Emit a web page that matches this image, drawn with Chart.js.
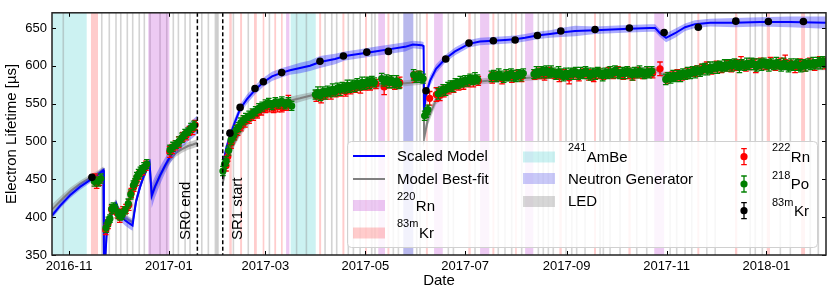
<!DOCTYPE html>
<html>
<head>
<meta charset="utf-8">
<script src="https://cdn.jsdelivr.net/npm/chart.js@4.4.1/dist/chart.umd.min.js"></script>
<style>
  html, body { margin: 0; padding: 0; background: #fff; }
</style>
</head>
<body>
<canvas id="lifetime" width="830" height="294"></canvas>
<script>
// x values are days since 2016-11-01

const tickDays = [0, 61, 120, 181, 242, 304, 365, 426]
const tickLabels = ['2016-11', '2017-01', '2017-03', '2017-05', '2017-07', '2017-09', '2017-11', '2018-01']
const yTicks = [350, 400, 450, 500, 550, 600, 650]

const sr0End = 78.4
const sr1Start = 93.9

// calibration periods [start, end]
const ambeRuns = [[-12, 10.8], [135.4, 150.7]]
const rn220Runs = [[48.4, 61.3], [132.6, 134.6], [188.9, 193.0], [223.0, 228.3], [251.1, 256.7], [278.6, 283.6], [357.5, 363.5]]
const kr83mRuns = [[13.4, 17.7], [97.9, 99.4], [104.5, 105.7], [113.0, 114.7], [118.3, 119.3], [125.4, 126.5], [129.5, 130.5],
  [152.8, 154.0], [167.0, 168.2], [180.8, 182.0], [194.5, 195.7], [218.0, 219.2], [243.9, 245.4], [258.6, 259.8],
  [272.5, 273.5], [299.5, 301.0], [320.7, 321.9], [341.7, 343.1], [383.8, 385.0], [406.8, 408.2], [426.2, 428.2], [447.2, 449.6]]
const neutronRuns = [[204.2, 210.3]]
const ledDays = [-3.5, 20.0, 24.6, 28.7, 31.6, 35.6, 38.9, 42.9, 46.0, 49.5, 55.6, 59.7, 63.7, 66.8, 70.9, 73.9,
  81.1, 85.1, 89.4, 90.2, 91.0, 100.4, 109.5, 122.4, 139.0, 145.0, 156.4, 160.5, 163.5, 170.6, 173.7, 177.8, 184.9, 186.9,
  198.1, 201.2, 212.4, 214.4, 231.7, 234.8, 248.0, 262.2, 266.3, 270.4, 276.5, 286.7, 289.7, 292.8, 295.8,
  303.6, 307.1, 310.1, 315.2, 324.4, 326.4, 330.5, 336.6, 346.8, 352.9, 367.2, 371.2, 376.3, 380.4,
  389.6, 394.7, 416.1, 419.2, 423.5, 434.5, 440.6, 452.8, 457.7]

// scaled model (blue) and its half width
const scaledDays = [-10.4, -5.5, 0.6, 6.7, 12.8, 17.1, 21.0, 21.3, 22.0, 22.9, 23.8, 25.0, 26.3, 27.5, 28.7, 29.9, 31.8, 34.2,
  37.3, 38.8, 39.5, 40.9, 43.4, 45.8, 48.3, 49.2, 50.5, 52.5, 55.6, 58.6, 61.7, 65.4, 69.0, 72.7, 75.7, 78.2, 86.0,
  93.9, 95.9, 98.4, 101.4, 104.5, 108.7, 113.6, 118.5, 124.0, 130.1, 135.0, 141.1, 147.2, 153.3, 162.5, 168.6, 177.8,
  186.9, 196.1, 205.3, 210.1, 215.6, 216.6, 216.9, 218.1, 220.5, 224.2, 229.7, 235.8, 244.3, 251.0, 258.9, 266.3,
  272.5, 278.6, 285.9, 293.8, 300.5, 309.1, 321.3, 331.7, 342.1, 354.9, 358.0, 361.0, 364.7, 370.2, 376.3, 382.4,
  391.6, 406.8, 422.1, 440.4, 462.4]
const scaledModel = [402, 415, 429, 440, 449, 455, 462, 340, 340, 375, 388, 396, 406, 414, 418, 410, 401, 396,
  391, 389, 400, 420, 440, 455, 468, 472, 428, 440, 455, 468, 480, 492, 502, 511, 517, 522, null,
  468, 490, 508, 526, 543, 556, 568, 578, 586, 591, 594, 597, 600, 605, 609, 613, 616,
  619, 622, 625, 628, 627, 626, 540, 562, 580, 596, 609, 619, 629, 632, 633, 634,
  635, 637, 640, 642, 644, 646, 647, 648, 649, 650, 650, 643, 637, 643, 651, 655,
  657, 657, 658, 658, 657]
const scaledSpread = [4, 4, 4, 4, 4, 4, 4, 4, 4, 6, 5, 5, 5, 5, 5, 6, 7, 7,
  7, 7, 6, 5, 5, 5, 5, 6, 16, 14, 12, 10, 9, 9, 10, 11, 12, 12, null,
  6, 6, 6, 6, 6, 6, 6, 6, 6, 6, 6, 7, 7, 8, 7, 6, 6,
  6, 6, 6, 5, 5, 5, 8, 8, 7, 6, 5, 5, 5, 5, 5, 5,
  5, 5, 5, 5, 6, 7, 5, 5, 5, 5, 5, 5, 6, 6, 5, 5,
  5, 6, 6, 7, 8]

// best-fit model (gray) and its half width
const bestDays = [-10.4, -5.5, 0.6, 6.7, 12.8, 17.1, 20.2, 21.0, 21.3, 22.0, 22.9, 23.8, 25.0, 26.3, 27.5, 28.7, 29.9, 31.8,
  34.2, 37.3, 38.8, 39.5, 40.9, 43.4, 45.8, 48.3, 49.2, 50.5, 52.5, 55.6, 58.6, 61.7, 65.4, 69.0, 72.7, 75.7, 78.2, 86.0,
  93.9, 95.9, 98.4, 101.4, 104.5, 108.7, 113.6, 118.5, 124.0, 130.1, 135.0, 141.1, 150.3, 162.5, 177.8, 196.1, 210.1,
  215.6, 216.6, 216.9, 219.3, 224.2, 232.8, 245.0, 263.3, 285.9, 299.9, 324.4, 356.7, 359.8, 362.9, 370.2, 385.5,
  403.8, 434.3, 462.4]
const bestFit = [410, 421, 434, 444, 452, 457, 462, 463, 340, 340, 378, 390, 398, 408, 415, 419, 412, 404,
  399, 395, 393, 403, 421, 441, 456, 468, 471, 430, 441, 455, 467, 477, 485, 490, 494, 496, 498, null,
  445, 468, 486, 500, 512, 524, 534, 541, 547, 551, 554, 557, 562, 567, 571, 575, 578,
  579, 579, 505, 530, 555, 570, 578, 582, 585, 588, 590, 595, 594, 587, 590, 596,
  598, 598, 598]
const bestSpread = [7, 6, 5, 4, 4, 4, 4, 4, 4, 4, 6, 5, 5, 5, 5, 5, 5, 5,
  5, 5, 5, 5, 5, 5, 5, 5, 5, 9, 8, 6, 5, 5, 5, 5, 5, 5, 5, null,
  7, 6, 6, 5, 5, 5, 5, 5, 5, 5, 5, 5, 4, 4, 4, 4, 4,
  4, 4, 10, 8, 6, 5, 4, 4, 4, 4, 4, 4, 4, 5, 4, 4,
  4, 4, 4]

// [day, lifetime, error]
const rn222Points = [
  [15.9, 451, 6], [16.9, 445, 7], [18.5, 448, 6],
  [22.4, 383, 6], [23.8, 391, 6], [26.0, 410, 6], [29.5, 405, 6], [31.0, 400, 7], [33.0, 408, 6], [34.8, 411, 6],
  [36.5, 416, 7], [38.0, 432, 6], [39.5, 440, 6], [41.0, 448, 6], [43.0, 456, 6], [45.0, 462, 6], [47.0, 468, 6],
  [61.5, 486, 7], [63.0, 490, 6], [65.0, 495, 6], [67.0, 499, 7], [69.5, 506, 6], [71.5, 508, 6], [73.5, 514, 6],
  [75.5, 516, 7], [77.0, 522, 6],
  [95.9, 468, 7], [97.0, 480, 6], [99.0, 498, 7], [101.0, 508, 6], [103.0, 515, 7], [105.0, 520, 6], [107.5, 526, 7],
  [110.0, 530, 6], [112.5, 535, 7], [115.0, 537, 6], [117.5, 542, 7], [120.0, 544, 6], [122.5, 546, 7], [125.0, 544, 6],
  [127.5, 546, 7], [130.0, 545, 6], [132.5, 548, 7], [134.0, 551, 10],
  [151.0, 560, 7], [154.0, 558, 7], [157.0, 562, 6], [160.0, 563, 7], [163.0, 565, 6], [166.0, 567, 7], [169.0, 566, 6],
  [172.0, 570, 7], [175.0, 571, 6], [178.0, 571, 7], [181.0, 574, 6], [184.0, 575, 7], [187.5, 576, 6], [192.5, 572, 10],
  [196.0, 578, 7], [199.0, 575, 6], [202.0, 578, 7], [211.0, 585, 7], [214.0, 587, 6],
  [220.3, 557, 9], [224.4, 562, 9], [226.5, 561, 7], [229.0, 566, 7], [232.0, 569, 6], [235.0, 572, 7], [238.0, 574, 6],
  [241.0, 576, 7], [244.0, 578, 6], [247.0, 579, 7], [250.0, 580, 6], [258.5, 584, 7], [261.5, 586, 6], [264.5, 583, 7],
  [267.5, 587, 6], [270.5, 585, 7], [273.5, 588, 6], [276.5, 586, 7], [284.5, 588, 6], [287.5, 590, 7], [290.5, 587, 6],
  [293.5, 591, 7], [296.5, 589, 6], [299.5, 586, 7], [302.5, 589, 6], [305.5, 584, 8], [308.5, 590, 6], [311.5, 587, 7],
  [314.5, 590, 6], [317.5, 588, 7], [320.5, 585, 6], [323.5, 590, 7], [326.5, 588, 6], [329.5, 591, 7], [332.5, 589, 6],
  [335.5, 592, 7], [338.5, 588, 6], [341.5, 590, 7], [344.5, 587, 6], [347.5, 591, 7], [350.5, 589, 6], [353.5, 592, 7],
  [356.5, 590, 6], [361.0, 596, 9], [365.5, 584, 7], [368.5, 586, 6], [371.5, 588, 7], [374.5, 587, 6], [377.5, 590, 7],
  [380.5, 592, 6], [383.5, 593, 7], [386.5, 596, 6], [389.5, 598, 7], [392.5, 595, 6], [395.5, 599, 7], [398.5, 597, 6],
  [401.5, 600, 7], [404.5, 598, 6], [407.5, 601, 7], [410.5, 604, 8], [413.5, 599, 6], [416.5, 602, 7], [419.5, 600, 9],
  [422.5, 603, 7], [425.5, 601, 6], [428.5, 604, 7], [431.5, 600, 6], [434.5, 603, 7], [437.5, 605, 9], [440.5, 601, 6],
  [443.5, 598, 7], [446.5, 603, 6], [449.5, 600, 7], [452.5, 604, 6], [455.5, 601, 7], [458.5, 606, 6], [461.5, 603, 7]
]

const po218Points = [
  [15.5, 447, 6], [17.9, 447, 6], [19.5, 451, 6],
  [22.6, 386, 6], [24.0, 394, 6], [25.0, 398, 5], [26.1, 411, 6], [27.1, 413, 6], [28.1, 412, 5], [30.1, 404, 6],
  [31.2, 402, 6], [32.4, 403, 6], [34.2, 409, 5], [36.2, 418, 6], [37.7, 430, 6], [39.3, 442, 6], [40.3, 446, 5],
  [41.4, 453, 6], [42.5, 457, 6], [43.6, 460, 6], [44.6, 463, 5], [45.8, 466, 6], [47.5, 470, 6],
  [61.7, 489, 6], [63.5, 493, 6], [65.4, 496, 5], [67.2, 500, 6], [69.0, 505, 6], [70.9, 510, 6], [72.7, 513, 5],
  [74.5, 518, 6], [76.4, 521, 6],
  [94.0, 461, 6], [95.0, 470, 6], [96.0, 474, 6], [97.5, 488, 6], [99.0, 502, 6], [100.5, 508, 6], [102.0, 515, 6],
  [103.5, 519, 6], [105.0, 525, 6], [106.5, 528, 6], [108.0, 531, 6], [110.0, 534, 6], [112.0, 537, 6], [114.0, 540, 6],
  [116.0, 544, 6], [118.0, 546, 6], [120.0, 549, 6], [122.0, 551, 6], [124.0, 548, 6], [126.0, 552, 6], [128.0, 550, 6],
  [130.0, 553, 6], [132.0, 549, 6], [134.0, 552, 6], [136.0, 547, 6],
  [150.5, 562, 6], [152.0, 565, 7], [153.5, 560, 6], [155.0, 566, 6], [156.5, 563, 7], [158.0, 567, 6], [159.5, 565, 6],
  [161.0, 569, 7], [162.5, 566, 6], [164.0, 571, 6], [165.5, 568, 7], [167.0, 572, 6], [168.5, 570, 6], [170.0, 574, 7],
  [171.5, 571, 6], [173.0, 575, 6], [174.5, 573, 7], [176.0, 577, 6], [177.5, 574, 6], [179.0, 578, 7], [180.5, 575, 6],
  [182.0, 579, 6], [183.5, 577, 7], [185.0, 580, 6], [186.5, 578, 6],
  [191.0, 583, 7], [192.5, 579, 6], [194.0, 582, 6], [195.5, 578, 7], [197.0, 581, 6], [198.5, 577, 6], [200.0, 580, 7],
  [201.5, 576, 6],
  [210.5, 588, 7], [212.0, 584, 6], [213.5, 587, 6], [215.0, 585, 7], [216.3, 583, 6],
  [217.2, 534, 6], [218.2, 538, 6], [219.2, 542, 6],
  [225.5, 563, 7], [227.0, 566, 6], [228.5, 569, 6], [230.0, 568, 7], [231.5, 572, 6], [233.0, 574, 6], [234.5, 573, 7],
  [236.0, 577, 6], [237.5, 576, 6], [239.0, 579, 7], [240.5, 578, 6], [242.0, 581, 6], [243.5, 580, 7], [245.0, 583, 6],
  [246.5, 581, 6], [248.0, 584, 7], [249.5, 582, 6],
  [258.0, 586, 7], [259.5, 588, 6], [261.0, 585, 6], [262.5, 589, 7], [264.0, 587, 6], [265.5, 584, 6], [267.0, 588, 7],
  [268.5, 586, 6], [270.0, 590, 6], [271.5, 587, 7], [273.0, 585, 6], [274.5, 589, 6], [276.0, 587, 7], [277.5, 590, 6],
  [284.0, 589, 6], [285.5, 592, 7], [287.0, 590, 6], [288.5, 593, 6], [290.0, 591, 7], [291.5, 594, 6], [293.0, 590, 6],
  [294.5, 593, 7], [296.0, 591, 6], [297.5, 588, 6], [299.0, 592, 7], [300.5, 590, 6], [302.0, 586, 6], [303.5, 590, 7],
  [305.0, 588, 6], [306.5, 591, 6], [308.0, 589, 7], [309.5, 592, 6], [311.0, 588, 6], [312.5, 591, 7], [314.0, 589, 6],
  [315.5, 593, 6], [317.0, 590, 7], [318.5, 587, 6], [320.0, 591, 6], [321.5, 589, 7], [323.0, 592, 6], [324.5, 590, 6],
  [326.0, 587, 7], [327.5, 591, 6], [329.0, 589, 6], [330.5, 592, 7], [332.0, 590, 6], [333.5, 594, 6], [335.0, 591, 7],
  [336.5, 589, 6], [338.0, 592, 6], [339.5, 590, 7], [341.0, 593, 6], [342.5, 591, 6], [344.0, 588, 7], [345.5, 592, 6],
  [347.0, 590, 6], [348.5, 593, 7], [350.0, 591, 6], [351.5, 589, 6], [353.0, 592, 7], [354.5, 590, 6], [356.0, 593, 6],
  [364.5, 582, 7], [366.0, 585, 6], [367.5, 583, 6], [369.0, 587, 7], [370.5, 585, 6], [372.0, 588, 6], [373.5, 586, 7],
  [375.0, 590, 6], [376.5, 588, 6], [378.0, 591, 7], [379.5, 589, 6], [381.0, 593, 6], [382.5, 591, 7], [384.0, 594, 6],
  [385.5, 592, 6], [387.0, 595, 7], [388.5, 597, 6], [390.0, 594, 6], [391.5, 598, 7], [393.0, 596, 6], [394.5, 599, 6],
  [396.0, 597, 7], [397.5, 600, 6], [399.0, 598, 6], [400.5, 601, 7], [402.0, 599, 6], [403.5, 602, 6], [405.0, 600, 7],
  [406.5, 603, 6], [408.0, 601, 6], [409.5, 598, 7], [411.0, 602, 6], [412.5, 600, 6], [414.0, 603, 7], [415.5, 601, 6],
  [417.0, 604, 6], [418.5, 602, 7], [420.0, 599, 6], [421.5, 603, 6], [423.0, 601, 7], [424.5, 604, 6], [426.0, 602, 6],
  [427.5, 600, 7], [429.0, 603, 6], [430.5, 601, 6], [432.0, 604, 7], [433.5, 602, 6], [435.0, 599, 6], [436.5, 603, 7],
  [438.0, 601, 6], [439.5, 598, 6], [441.0, 602, 7], [442.5, 600, 6], [444.0, 603, 6], [445.5, 601, 7], [447.0, 598, 6],
  [448.5, 602, 6], [450.0, 600, 7], [451.5, 603, 6], [453.0, 601, 6], [454.5, 604, 7], [456.0, 602, 6], [457.5, 605, 6],
  [459.0, 603, 7], [460.5, 606, 6], [462.0, 604, 6]
]

const kr83mPoints = [
  [14.0, 452.6, 2], [98.3, 511, 2], [104.5, 545, 2], [113.6, 570, 2], [118.7, 579, 2], [129.9, 591, 2],
  [153.3, 606, 2], [167.6, 613, 2], [181.9, 618, 2], [195.1, 619, 2], [218.1, 567, 2], [230.1, 609, 2],
  [244.3, 630, 2], [259.2, 633, 2], [272.5, 634, 2], [286.1, 640, 2], [300.4, 646, 2], [321.3, 648, 2],
  [342.3, 650, 2], [363.5, 644, 2], [384.4, 651, 2], [407.3, 659, 2], [427.2, 658.5, 2], [448.6, 658.5, 2]
]

const FONT = '"Liberation Sans", Arial, Helvetica, sans-serif'

function toXY(days, values) {
    return days.map((d, i) => ({ x: d, y: values[i] }))
}
function bandEdge(days, values, spread, sign) {
    return days.map((d, i) => ({ x: d, y: values[i] === null ? null : values[i] + sign * spread[i] }))
}
function pointData(points) {
    return points.map(p => ({ x: p[0], y: p[1] }))
}

function clipToArea(ctx, area) {
    ctx.beginPath()
    ctx.rect(area.left, area.top, area.right - area.left, area.bottom - area.top)
    ctx.clip()
}

const COLORS = {
    ambe: 'rgba(0,190,190,0.2)',
    rn220: 'rgba(190,60,210,0.27)',
    kr83m: 'rgba(255,0,0,0.2)',
    neutron: 'rgba(40,40,200,0.33)',
    led: 'rgba(140,140,140,0.38)'
}

// shaded calibration periods behind the data
const calibrationBands = {
    id: 'calibrationBands',
    beforeDatasetsDraw(chart) {
        const { ctx, chartArea: area, scales: { x } } = chart
        ctx.save()
        clipToArea(ctx, area)
        const fillRuns = (runs, color) => {
            ctx.fillStyle = color
            runs.forEach(run => {
                let x0 = x.getPixelForValue(run[0])
                let x1 = x.getPixelForValue(run[1])
                if (x1 - x0 < 1.6) {
                    const c = (x0 + x1) / 2
                    x0 = c - 0.8
                    x1 = c + 0.8
                }
                ctx.fillRect(x0, area.top, x1 - x0, area.bottom - area.top)
            })
        }
        fillRuns(ambeRuns, COLORS.ambe)
        fillRuns(ledDays.map(d => [d, d]), COLORS.led)
        fillRuns(rn220Runs, COLORS.rn220)
        fillRuns(kr83mRuns, COLORS.kr83m)
        fillRuns(neutronRuns, COLORS.neutron)
        ctx.restore()
    }
}

// error bars, drawn just under each point series
const errorBars = {
    id: 'errorBars',
    beforeDatasetDraw(chart, args) {
        const ds = chart.data.datasets[args.index]
        if (!ds.errorBars) return
        const { ctx, chartArea: area, scales: { x, y } } = chart
        ctx.save()
        clipToArea(ctx, area)
        ctx.strokeStyle = ds.backgroundColor
        ctx.lineWidth = 1.3
        ds.data.forEach((p, i) => {
            const e = ds.errorBars[i]
            const px = x.getPixelForValue(p.x)
            const top = y.getPixelForValue(p.y + e)
            const bot = y.getPixelForValue(p.y - e)
            ctx.beginPath()
            ctx.moveTo(px, top)
            ctx.lineTo(px, bot)
            ctx.moveTo(px - 2.8, top)
            ctx.lineTo(px + 2.8, top)
            ctx.moveTo(px - 2.8, bot)
            ctx.lineTo(px + 2.8, bot)
            ctx.stroke()
        })
        ctx.restore()
    }
}

function drawLabel(ctx, x, y, sup, main) {
    ctx.textBaseline = 'middle'
    ctx.textAlign = 'left'
    let cx = x
    if (sup) {
        ctx.font = '11px ' + FONT
        ctx.fillText(sup, cx, y - 9)
        cx += ctx.measureText(sup).width + 0.5
    }
    ctx.font = '15px ' + FONT
    ctx.fillText(main, cx, y + 0.5)
}

function drawLegendMarker(ctx, x, y, color, err) {
    ctx.strokeStyle = color
    ctx.fillStyle = color
    ctx.lineWidth = 1.3
    ctx.beginPath()
    ctx.moveTo(x, y - err)
    ctx.lineTo(x, y + err)
    ctx.moveTo(x - 2.8, y - err)
    ctx.lineTo(x + 2.8, y - err)
    ctx.moveTo(x - 2.8, y + err)
    ctx.lineTo(x + 2.8, y + err)
    ctx.stroke()
    ctx.beginPath()
    ctx.arc(x, y, 3.6, 0, Math.PI * 2)
    ctx.fill()
}

// run markers, run labels and the legend box
const annotations = {
    id: 'annotations',
    afterDatasetsDraw(chart) {
        const { ctx, chartArea: area, scales: { x } } = chart
        ctx.save()
        ctx.strokeStyle = '#000'
        ctx.lineWidth = 1.5
        ctx.setLineDash([4, 2.5])
        ;[sr0End, sr1Start].forEach(d => {
            const px = x.getPixelForValue(d)
            ctx.beginPath()
            ctx.moveTo(px, area.top)
            ctx.lineTo(px, area.bottom)
            ctx.stroke()
        })
        ctx.setLineDash([])

        ctx.fillStyle = '#000'
        ctx.font = '15px ' + FONT
        ctx.textAlign = 'left'
        ctx.textBaseline = 'middle'
        const runText = (px, text) => {
            ctx.save()
            ctx.translate(px, 240)
            ctx.rotate(-Math.PI / 2)
            ctx.fillText(text, 0, 0)
            ctx.restore()
        }
        runText(x.getPixelForValue(sr0End) - 12, 'SR0 end')
        runText(x.getPixelForValue(sr1Start) + 15.5, 'SR1 start')

        // legend
        ctx.fillStyle = 'rgba(255,255,255,0.82)'
        ctx.strokeStyle = '#d0d0d0'
        ctx.lineWidth = 1
        ctx.beginPath()
        ctx.roundRect(347.5, 141.5, 470, 106, 4)
        ctx.fill()
        ctx.stroke()

        ctx.lineWidth = 2
        ctx.strokeStyle = '#0000ff'
        ctx.beginPath()
        ctx.moveTo(353, 156)
        ctx.lineTo(385, 156)
        ctx.stroke()
        ctx.strokeStyle = '#808080'
        ctx.beginPath()
        ctx.moveTo(353, 179)
        ctx.lineTo(385, 179)
        ctx.stroke()
        ctx.fillStyle = COLORS.rn220
        ctx.fillRect(353, 200, 32, 11)
        ctx.fillStyle = COLORS.kr83m
        ctx.fillRect(353, 227.5, 32, 11)

        ctx.fillStyle = COLORS.ambe
        ctx.fillRect(523, 151.5, 32, 11)
        ctx.fillStyle = 'rgba(60,60,230,0.28)'
        ctx.fillRect(523, 173, 32, 11)
        ctx.fillStyle = 'rgba(140,140,140,0.35)'
        ctx.fillRect(523, 196, 32, 11)

        drawLegendMarker(ctx, 744, 156.7, '#ff0000', 8)
        drawLegendMarker(ctx, 744, 184, '#008000', 8)
        drawLegendMarker(ctx, 744, 210.7, '#000000', 8)

        ctx.fillStyle = '#000'
        drawLabel(ctx, 397, 156.5, null, 'Scaled Model')
        drawLabel(ctx, 397, 179.5, null, 'Model Best-fit')
        drawLabel(ctx, 397, 206, '220', 'Rn')
        drawLabel(ctx, 397, 233, '83m', 'Kr')
        drawLabel(ctx, 568, 157, '241', 'AmBe')
        drawLabel(ctx, 568, 179.5, null, 'Neutron Generator')
        drawLabel(ctx, 568, 201.5, null, 'LED')
        drawLabel(ctx, 772, 157, '222', 'Rn')
        drawLabel(ctx, 772, 184.5, '218', 'Po')
        drawLabel(ctx, 772, 211.5, '83m', 'Kr')
        ctx.restore()
    }
}

// frame with inward ticks on all four sides
const frameTicks = {
    id: 'frameTicks',
    afterDraw(chart) {
        const { ctx, chartArea: area, scales: { x, y } } = chart
        ctx.save()
        ctx.strokeStyle = '#000'
        ctx.lineWidth = 1
        tickDays.forEach(d => {
            const px = Math.round(x.getPixelForValue(d)) + 0.5
            ctx.beginPath()
            ctx.moveTo(px, area.bottom)
            ctx.lineTo(px, area.bottom - 4)
            ctx.moveTo(px, area.top)
            ctx.lineTo(px, area.top + 4)
            ctx.stroke()
        })
        yTicks.forEach(v => {
            const py = Math.round(y.getPixelForValue(v)) + 0.5
            ctx.beginPath()
            ctx.moveTo(area.left, py)
            ctx.lineTo(area.left + 4, py)
            ctx.moveTo(area.right, py)
            ctx.lineTo(area.right - 4, py)
            ctx.stroke()
        })
        ctx.lineWidth = 1.5
        ctx.strokeStyle = '#222'
        ctx.strokeRect(area.left, area.top, area.right - area.left, area.bottom - area.top)
        ctx.restore()
    }
}

Chart.defaults.color = '#000'
Chart.defaults.font.family = FONT

new Chart(document.getElementById('lifetime'), {
    type: 'line',
    data: {
        datasets: [
            {
                label: 'best low',
                data: bandEdge(bestDays, bestFit, bestSpread, -1),
                borderWidth: 0, pointRadius: 0, fill: false, order: 9, clip: 0
            },
            {
                label: 'best high',
                data: bandEdge(bestDays, bestFit, bestSpread, 1),
                borderWidth: 0, pointRadius: 0, fill: '-1', backgroundColor: 'rgba(128,128,128,0.4)', order: 8, clip: 0
            },
            {
                label: 'Model Best-fit',
                data: toXY(bestDays, bestFit),
                borderColor: '#808080', borderWidth: 2, pointRadius: 0, fill: false, order: 7, clip: 0
            },
            {
                label: 'scaled low',
                data: bandEdge(scaledDays, scaledModel, scaledSpread, -1),
                borderWidth: 0, pointRadius: 0, fill: false, order: 6, clip: 0
            },
            {
                label: 'scaled high',
                data: bandEdge(scaledDays, scaledModel, scaledSpread, 1),
                borderWidth: 0, pointRadius: 0, fill: '-1', backgroundColor: 'rgba(40,40,255,0.38)', order: 5, clip: 0
            },
            {
                label: 'Scaled Model',
                data: toXY(scaledDays, scaledModel),
                borderColor: '#0000ff', borderWidth: 2, pointRadius: 0, fill: false, order: 4, clip: 0
            },
            {
                label: '222Rn',
                data: pointData(rn222Points),
                errorBars: rn222Points.map(p => p[2]),
                showLine: false, pointRadius: 3.6, pointBorderWidth: 0,
                backgroundColor: '#ff0000', borderColor: '#ff0000', order: 2, clip: 0
            },
            {
                label: '218Po',
                data: pointData(po218Points),
                errorBars: po218Points.map(p => p[2]),
                showLine: false, pointRadius: 3.6, pointBorderWidth: 0,
                backgroundColor: '#008000', borderColor: '#008000', order: 1, clip: 0
            },
            {
                label: '83mKr',
                data: pointData(kr83mPoints),
                errorBars: kr83mPoints.map(p => p[2]),
                showLine: false, pointRadius: 3.8, pointBorderWidth: 0,
                backgroundColor: '#000000', borderColor: '#000000', order: 0, clip: 0
            }
        ]
    },
    options: {
        responsive: false,
        animation: false,
        events: [],
        layout: { padding: { top: 3, right: 4, left: 0, bottom: 0 } },
        plugins: {
            legend: { display: false },
            tooltip: { enabled: false }
        },
        scales: {
            x: {
                type: 'linear',
                min: -10.4,
                max: 462.4,
                afterBuildTicks: scale => { scale.ticks = tickDays.map(v => ({ value: v })) },
                afterFit: scale => { scale.height = 39 },
                grid: { display: false, drawTicks: false },
                border: { display: false },
                ticks: {
                    autoSkip: false,
                    maxRotation: 0,
                    padding: 4,
                    font: { size: 13 },
                    callback: value => tickLabels[tickDays.indexOf(value)]
                },
                title: { display: true, text: 'Date', font: { size: 15 }, padding: { top: 0, bottom: 4 } }
            },
            y: {
                min: 350,
                max: 670,
                afterBuildTicks: scale => { scale.ticks = yTicks.map(v => ({ value: v })) },
                afterFit: scale => { scale.width = 52 },
                grid: { display: false, drawTicks: false },
                border: { display: false },
                ticks: { padding: 5, font: { size: 13 } },
                title: { display: true, text: 'Electron Lifetime [µs]', font: { size: 15 }, padding: { top: 3, bottom: 0 } }
            }
        }
    },
    plugins: [calibrationBands, errorBars, annotations, frameTicks]
})
</script>
</body>
</html>
